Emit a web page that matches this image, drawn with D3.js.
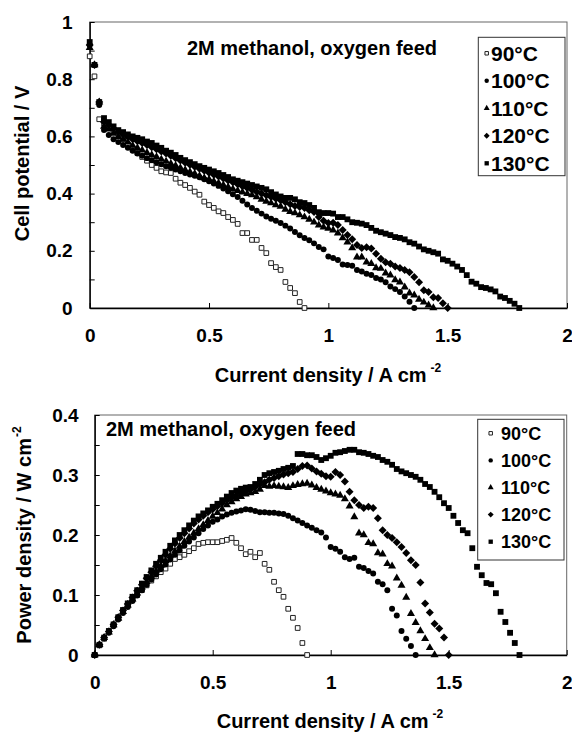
<!DOCTYPE html>
<html>
<head>
<meta charset="utf-8">
<script src="https://cdn.jsdelivr.net/npm/d3@7"></script>
<style>
  body { margin: 0; background: #fff; }
  svg text { font-family: "Liberation Sans", Arial, sans-serif; font-weight: bold; fill: #000; }
</style>
</head>
<body>
<div id="chart"></div>
<script>
//Series names
const temps = ["90°C", "100°C", "110°C", "120°C", "130°C"];

//Current density, A cm-2 (shared by every series, each one stops at its own length)
const current = [0, 0.02, 0.04, 0.06, 0.08, 0.1, 0.12, 0.14, 0.16, 0.18, 0.2, 0.22, 0.24, 0.26, 0.28, 0.3,
  0.32, 0.34, 0.36, 0.38, 0.4, 0.42, 0.44, 0.46, 0.48, 0.5, 0.52, 0.54, 0.56, 0.58, 0.6, 0.62, 0.64, 0.66,
  0.68, 0.7, 0.72, 0.74, 0.76, 0.78, 0.8, 0.82, 0.84, 0.86, 0.88, 0.9, 0.92, 0.94, 0.96, 0.98, 1, 1.02, 1.04,
  1.06, 1.08, 1.1, 1.12, 1.14, 1.16, 1.18, 1.2, 1.22, 1.24, 1.26, 1.28, 1.3, 1.32, 1.34, 1.36, 1.38, 1.4,
  1.42, 1.44, 1.46, 1.48, 1.5, 1.52, 1.54, 1.56, 1.58, 1.6, 1.62, 1.64, 1.66, 1.68, 1.7, 1.72, 1.74, 1.76,
  1.78, 1.8];

//Cell potential, V
const voltage90 = [0.88, 0.81, 0.66, 0.645, 0.63, 0.62, 0.605, 0.59, 0.572, 0.555, 0.542, 0.528, 0.515, 0.50,
  0.49, 0.478, 0.474, 0.472, 0.452, 0.438, 0.43, 0.42, 0.407, 0.396, 0.372, 0.36, 0.35, 0.338, 0.332, 0.318,
  0.308, 0.294, 0.262, 0.262, 0.238, 0.238, 0.21, 0.192, 0.157, 0.143, 0.133, 0.091, 0.07, 0.052, 0.021, 0];
const voltage100 = [0.92, 0.85, 0.71, 0.622, 0.605, 0.59, 0.58, 0.57, 0.56, 0.55, 0.54, 0.532, 0.524, 0.517,
  0.51, 0.503, 0.496, 0.49, 0.484, 0.478, 0.472, 0.467, 0.462, 0.457, 0.45, 0.443, 0.435, 0.427, 0.418, 0.408,
  0.398, 0.388, 0.375, 0.362, 0.35, 0.34, 0.33, 0.32, 0.312, 0.305, 0.297, 0.288, 0.278, 0.266, 0.254, 0.245,
  0.237, 0.226, 0.213, 0.205, 0.18, 0.175, 0.168, 0.152, 0.15, 0.148, 0.133, 0.128, 0.12, 0.115, 0.105, 0.1,
  0.09, 0.075, 0.066, 0.056, 0.04, 0.022, 0];
const voltage110 = [0.91, 0.85, 0.72, 0.635, 0.625, 0.61, 0.598, 0.59, 0.58, 0.568, 0.56, 0.552, 0.543, 0.535,
  0.528, 0.52, 0.513, 0.505, 0.498, 0.49, 0.483, 0.476, 0.47, 0.462, 0.455, 0.45, 0.443, 0.437, 0.43, 0.423,
  0.416, 0.41, 0.405, 0.40, 0.395, 0.388, 0.38, 0.373, 0.367, 0.36, 0.355, 0.345, 0.337, 0.332, 0.325, 0.318,
  0.31, 0.30, 0.29, 0.283, 0.278, 0.272, 0.262, 0.245, 0.23, 0.21, 0.178, 0.178, 0.16, 0.155, 0.14, 0.138,
  0.122, 0.115, 0.098, 0.09, 0.073, 0.052, 0.045, 0.03, 0.02, 0.01, 0];
const voltage120 = [0.92, 0.85, 0.72, 0.65, 0.64, 0.628, 0.615, 0.607, 0.598, 0.59, 0.583, 0.577, 0.57, 0.562,
  0.555, 0.547, 0.54, 0.532, 0.524, 0.516, 0.508, 0.501, 0.494, 0.487, 0.48, 0.473, 0.466, 0.46, 0.453, 0.446,
  0.44, 0.433, 0.426, 0.42, 0.413, 0.406, 0.40, 0.394, 0.388, 0.382, 0.377, 0.37, 0.363, 0.357, 0.353, 0.35,
  0.342, 0.336, 0.318, 0.305, 0.297, 0.298, 0.29, 0.273, 0.255, 0.24, 0.22, 0.21, 0.212, 0.208, 0.19, 0.172,
  0.16, 0.155, 0.145, 0.14, 0.133, 0.125, 0.108, 0.09, 0.062, 0.056, 0.038, 0.035, 0.017, 0];
const voltage130 = [0.93, 0.85, 0.72, 0.664, 0.65, 0.635, 0.622, 0.615, 0.607, 0.60, 0.595, 0.59, 0.582, 0.577,
  0.568, 0.56, 0.55, 0.543, 0.535, 0.525, 0.517, 0.51, 0.503, 0.496, 0.49, 0.484, 0.478, 0.472, 0.465, 0.458,
  0.45, 0.445, 0.44, 0.435, 0.43, 0.425, 0.42, 0.415, 0.405, 0.397, 0.39, 0.385, 0.385, 0.38, 0.37, 0.367,
  0.36, 0.35, 0.335, 0.332, 0.332, 0.33, 0.318, 0.318, 0.31, 0.30, 0.298, 0.295, 0.29, 0.28, 0.27, 0.265,
  0.26, 0.255, 0.248, 0.245, 0.24, 0.23, 0.225, 0.215, 0.205, 0.20, 0.195, 0.19, 0.17, 0.165, 0.155, 0.145,
  0.133, 0.115, 0.092, 0.085, 0.073, 0.07, 0.065, 0.058, 0.04, 0.035, 0.025, 0.015, 0];

//Power density, W cm-2
const power90 = [0, 0.016, 0.027, 0.039, 0.05, 0.062, 0.073, 0.083, 0.092, 0.1, 0.108, 0.116, 0.124, 0.131,
  0.138, 0.144, 0.152, 0.16, 0.163, 0.167, 0.173, 0.178, 0.185, 0.187, 0.188, 0.188, 0.188, 0.19, 0.192, 0.195,
  0.187, 0.178, 0.168, 0.172, 0.163, 0.17, 0.152, 0.142, 0.122, 0.108, 0.097, 0.077, 0.062, 0.045, 0.02, 0];
const power100 = [0, 0.017, 0.028, 0.037, 0.048, 0.059, 0.07, 0.08, 0.09, 0.099, 0.108, 0.117, 0.126, 0.134,
  0.143, 0.151, 0.159, 0.167, 0.174, 0.182, 0.189, 0.196, 0.203, 0.21, 0.216, 0.222, 0.226, 0.231, 0.234,
  0.237, 0.239, 0.241, 0.243, 0.242, 0.24, 0.238, 0.238, 0.237, 0.237, 0.236, 0.235, 0.232, 0.228, 0.224,
  0.22, 0.216, 0.212, 0.208, 0.204, 0.196, 0.18, 0.177, 0.172, 0.163, 0.16, 0.162, 0.147, 0.145, 0.14, 0.136,
  0.122, 0.118, 0.108, 0.077, 0.066, 0.04, 0.027, 0.015, 0];
const power110 = [0, 0.017, 0.029, 0.038, 0.05, 0.061, 0.072, 0.083, 0.093, 0.103, 0.113, 0.122, 0.131, 0.14,
  0.149, 0.157, 0.165, 0.173, 0.181, 0.189, 0.196, 0.203, 0.21, 0.217, 0.224, 0.231, 0.237, 0.243, 0.25, 0.255,
  0.26, 0.264, 0.268, 0.27, 0.272, 0.276, 0.282, 0.281, 0.282, 0.281, 0.28, 0.279, 0.282, 0.284, 0.285, 0.286,
  0.283, 0.279, 0.276, 0.273, 0.27, 0.268, 0.266, 0.26, 0.248, 0.23, 0.203, 0.2, 0.187, 0.185, 0.17, 0.168,
  0.152, 0.148, 0.128, 0.116, 0.096, 0.069, 0.054, 0.04, 0.027, 0.012, 0];
const power120 = [0, 0.017, 0.029, 0.039, 0.051, 0.063, 0.074, 0.085, 0.096, 0.107, 0.117, 0.128, 0.138, 0.148,
  0.158, 0.167, 0.177, 0.186, 0.195, 0.203, 0.211, 0.219, 0.226, 0.232, 0.238, 0.243, 0.248, 0.253, 0.258,
  0.262, 0.266, 0.27, 0.273, 0.276, 0.28, 0.284, 0.288, 0.292, 0.295, 0.298, 0.301, 0.303, 0.305, 0.31, 0.315,
  0.316, 0.311, 0.306, 0.302, 0.298, 0.297, 0.305, 0.3, 0.289, 0.272, 0.258, 0.25, 0.245, 0.247, 0.245, 0.228,
  0.208, 0.2, 0.195, 0.188, 0.18, 0.17, 0.158, 0.15, 0.121, 0.086, 0.071, 0.052, 0.044, 0.029, 0];
const power130 = [0, 0.017, 0.029, 0.04, 0.051, 0.063, 0.075, 0.086, 0.097, 0.108, 0.119, 0.13, 0.141, 0.152,
  0.162, 0.172, 0.182, 0.191, 0.2, 0.208, 0.216, 0.224, 0.231, 0.236, 0.241, 0.247, 0.252, 0.258, 0.264, 0.27,
  0.274, 0.277, 0.279, 0.28, 0.285, 0.292, 0.3, 0.303, 0.305, 0.307, 0.31, 0.312, 0.315, 0.335, 0.335, 0.333,
  0.333, 0.33, 0.325, 0.328, 0.332, 0.337, 0.338, 0.34, 0.342, 0.342, 0.338, 0.337, 0.335, 0.332, 0.33, 0.325,
  0.322, 0.317, 0.31, 0.306, 0.303, 0.3, 0.297, 0.292, 0.285, 0.28, 0.272, 0.263, 0.253, 0.245, 0.232, 0.22,
  0.208, 0.203, 0.178, 0.147, 0.133, 0.12, 0.118, 0.103, 0.072, 0.055, 0.037, 0.02, 0];

//Ticks
const xTicks = [0, 0.5, 1, 1.5, 2];
const yTicksTop = [0, 0.1, 0.2, 0.3, 0.4, 0.5, 0.6, 0.7, 0.8, 0.9, 1];
const yLabelsTop = [0, 0.2, 0.4, 0.6, 0.8, 1];
const yTicksBottom = [0, 0.05, 0.1, 0.15, 0.2, 0.25, 0.3, 0.35, 0.4];
const yLabelsBottom = [0, 0.1, 0.2, 0.3, 0.4];

//Marker shapes
const diamond = {
  draw(ctx, size) {
    const r = Math.sqrt(size / 2);
    ctx.moveTo(0, -r); ctx.lineTo(r, 0); ctx.lineTo(0, r); ctx.lineTo(-r, 0); ctx.closePath();
  }
};
const marks = [
  { type: d3.symbolSquare, size: 22, fill: "#fff", stroke: "#222" },
  { type: d3.symbolCircle, size: 28, fill: "#000", stroke: "none" },
  { type: d3.symbolTriangle, size: 28, fill: "#000", stroke: "none" },
  { type: diamond, size: 32, fill: "#000", stroke: "none" },
  { type: d3.symbolSquare, size: 34, fill: "#000", stroke: "none" }
];

const svg = d3.select("#chart").append("svg")
  .attr("width", 572)
  .attr("height", 732);

function drawPanel(p) {
  const x = d3.scaleLinear().domain([0, 2]).range([p.left, p.right]);
  const y = d3.scaleLinear().domain([0, p.yMax]).range([p.bottom, p.top]);
  const g = svg.append("g");

  //Frame
  g.append("rect")
    .attr("x", p.left).attr("y", p.top)
    .attr("width", p.right - p.left).attr("height", p.bottom - p.top)
    .attr("fill", "none").attr("stroke", "#666").attr("stroke-width", 1);

  //Axes
  const yAxis = d3.axisLeft(y)
    .tickValues(p.yTicks)
    .tickSizeInner(-5).tickSizeOuter(0)
    .tickPadding(p.yPad)
    .tickFormat(d => p.yLabels.includes(d) ? d3.format("")(d) : "");
  const xAxis = d3.axisBottom(x)
    .tickValues(xTicks)
    .tickSizeInner(-5).tickSizeOuter(0)
    .tickPadding(21)
    .tickFormat(d3.format(""));

  g.append("g")
    .attr("transform", "translate(" + p.left + ",0)")
    .call(yAxis)
    .call(styleAxis);
  g.append("g")
    .attr("transform", "translate(0," + p.bottom + ")")
    .call(xAxis)
    .call(styleAxis);

  //Points
  p.series.forEach(function(vals, k) {
    const m = marks[k];
    const pts = vals.map((v, i) => ({ x: current[i], y: v }));
    g.append("g")
      .selectAll("path")
      .data(pts)
      .join("path")
      .attr("transform", d => "translate(" + x(d.x) + "," + y(d.y) + ")")
      .attr("d", d3.symbol(m.type, m.size))
      .attr("fill", m.fill)
      .attr("stroke", m.stroke)
      .attr("stroke-width", 1);
  });

  //Inner title
  g.append("text")
    .attr("x", p.titleX).attr("y", p.titleY)
    .style("font-size", "20px")
    .text("2M methanol, oxygen feed");

  //Legend
  const lg = g.append("g");
  lg.append("rect")
    .attr("x", p.legend.x).attr("y", p.legend.y)
    .attr("width", p.legend.w).attr("height", p.legend.h)
    .attr("fill", "#fff").attr("stroke", "#333").attr("stroke-width", 1);
  temps.forEach(function(t, k) {
    const m = marks[k];
    const cy = p.legend.row0 + k * p.legend.step;
    lg.append("path")
      .attr("transform", "translate(" + p.legend.mx + "," + cy + ")")
      .attr("d", d3.symbol(m.type, m.size * 0.55))
      .attr("fill", m.fill).attr("stroke", m.stroke).attr("stroke-width", 1);
    lg.append("text")
      .attr("x", p.legend.tx).attr("y", cy + p.legend.font * 0.36)
      .style("font-size", p.legend.font + "px")
      .text(t);
  });

  //Axis titles
  const xt = g.append("text")
    .attr("x", p.xTitle[0]).attr("y", p.xTitle[1])
    .attr("text-anchor", "middle")
    .style("font-size", "20px");
  xt.append("tspan").text("Current density / A cm");
  xt.append("tspan").attr("dx", 4).attr("dy", -10).style("font-size", "12px").text("-2");

  const yt = g.append("text")
    .attr("transform", "translate(" + p.yTitle[0] + "," + p.yTitle[1] + ") rotate(-90)")
    .attr("text-anchor", "middle")
    .style("font-size", "20px");
  yt.append("tspan").text(p.yTitleText);
  if (p.yTitleSup) {
    yt.append("tspan").attr("dx", 1).attr("dy", -10).style("font-size", "12px").text(p.yTitleSup);
  }
}

function styleAxis(a) {
  a.attr("font-family", null).attr("font-size", null);
  a.select(".domain").attr("stroke", "#000").attr("stroke-width", 1.4);
  a.selectAll(".tick line").attr("stroke", "#000").attr("stroke-width", 1);
  a.selectAll(".tick text").style("font-size", "19px");
}

//Top panel: polarization curves
drawPanel({
  left: 89.7, right: 567, top: 22, bottom: 308, yMax: 1,
  yTicks: yTicksTop, yLabels: yLabelsTop, yPad: 17,
  series: [voltage90, voltage100, voltage110, voltage120, voltage130],
  titleX: 187, titleY: 55,
  legend: { x: 478.3, y: 37.3, w: 86.7, h: 138.4, row0: 53.3, step: 27.5, mx: 486.7, tx: 491, font: 21 },
  xTitle: [328, 382],
  yTitle: [29, 163.5], yTitleText: "Cell potential / V", yTitleSup: null
});

//Bottom panel: power density curves
drawPanel({
  left: 94.7, right: 566.7, top: 415, bottom: 655, yMax: 0.4,
  yTicks: yTicksBottom, yLabels: yLabelsBottom, yPad: 16,
  series: [power90, power100, power110, power120, power130],
  titleX: 106, titleY: 436,
  legend: { x: 477.7, y: 419.3, w: 86.3, h: 140.7, row0: 433.3, step: 27.1, mx: 490.7, tx: 501, font: 18 },
  xTitle: [330, 728],
  yTitle: [31, 535], yTitleText: "Power density / W cm", yTitleSup: "-2"
});
</script>
</body>
</html>
